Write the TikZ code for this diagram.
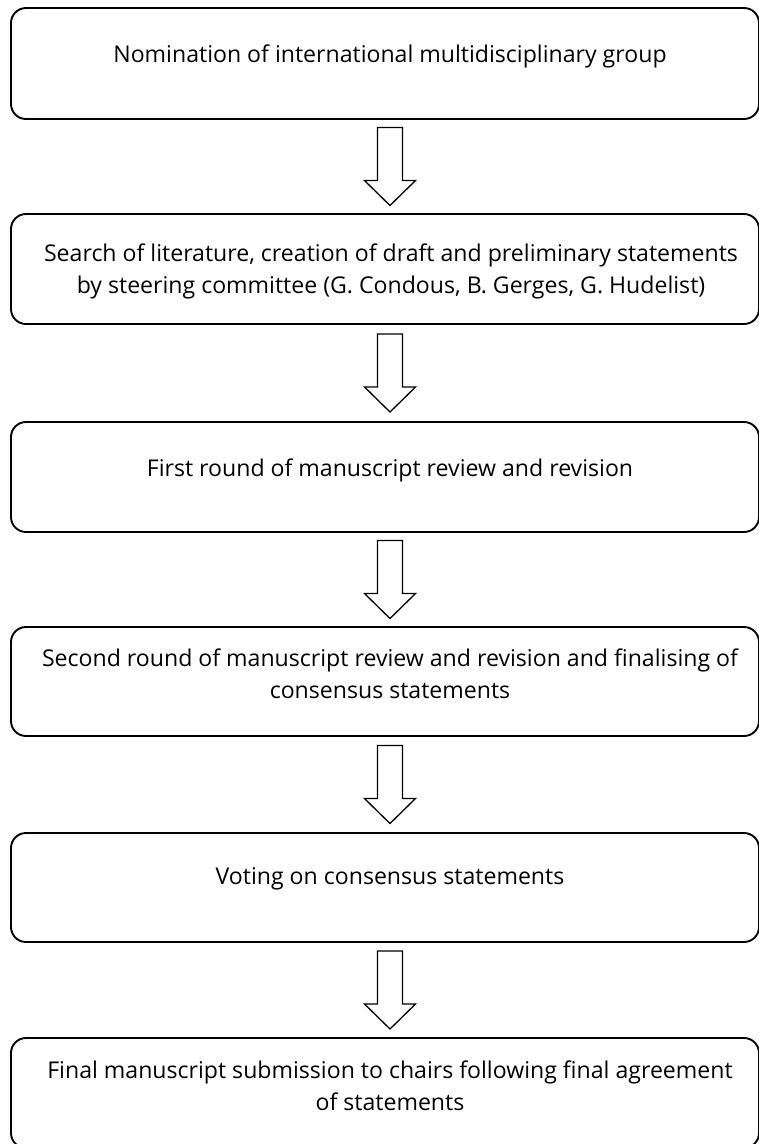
\documentclass[tikz,border=0pt]{standalone}
\usepackage{fontspec}
\setmainfont{Open Sans}
\usetikzlibrary{calc}
\begin{document}
\begin{tikzpicture}[x=1pt,y=-1pt,
  stepbox/.style={draw=black, line width=1.9pt, rounded corners=15pt, minimum width=748pt, inner sep=0pt},
  txt/.style={anchor=base, inner sep=0pt, font=\fontsize{23.1}{26}\selectfont},
  barrow/.style={draw=black, line width=1.3pt, fill=white, line join=miter}
]
\useasboundingbox (0,0) rectangle (759,1144);
\clip (0,0) rectangle (759,1144);
\node[stepbox, minimum height=111pt] (b1) at (385,63.5) {};
\node[stepbox, minimum height=110pt] (b2) at (385,269) {};
\node[stepbox, minimum height=110pt] (b3) at (385,477) {};
\node[stepbox, minimum height=109pt] (b4) at (385,681.5) {};
\node[stepbox, minimum height=109pt] (b5) at (385,887.5) {};
\node[stepbox, minimum height=110pt] (b6) at (385,1093) {};

\node[txt] (t1) at (390,62) {Nomination of international multidisciplinary group};
\node[txt] (t2a) at (391,261) {Search of literature, creation of draft and preliminary statements};
\node[txt] (t2b) at (391,293) {by steering committee (G. Condous, B. Gerges, G. Hudelist)};
\node[txt] (t3) at (390,476) {First round of manuscript review and revision};
\node[txt] (t4a) at (390,666) {Second round of manuscript review and revision and finalising of};
\node[txt] (t4b) at (390,698) {consensus statements};
\node[txt] (t5) at (390,884) {Voting on consensus statements};
\node[txt] (t6a) at (390,1078) {Final manuscript submission to chairs following final agreement};
\node[txt] (t6b) at (390,1110) {of statements};

\foreach \a/\b in {b1/b2,b2/b3,b3/b4,b4/b5,b5/b6}{
  \coordinate (m) at ($(\a.south)!0.5!(\b.north)+(5,0)$);
  \draw[barrow] ($(m)+(-12.5,-39)$) -- ++(25,0) -- ++(0,53) -- ++(13,0)
    -- ++(-25.5,25) -- ++(-25.5,-25) -- ++(13,0) -- cycle;
}
\end{tikzpicture}
\end{document}
